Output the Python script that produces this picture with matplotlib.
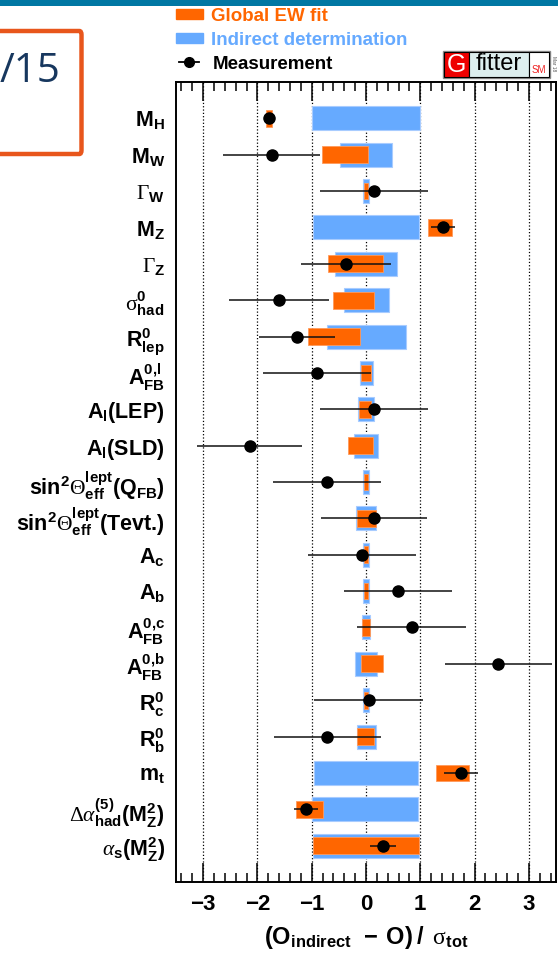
import matplotlib
matplotlib.use("Agg")
import matplotlib.pyplot as plt
from matplotlib.patches import Rectangle, FancyBboxPatch
from matplotlib.lines import Line2D
from matplotlib.ticker import MultipleLocator

# ---------------- data ----------------
labels = [
    r"$\mathbf{M_H}$",
    r"$\mathbf{M_W}$",
    r"$\Gamma_{\mathbf{W}}$",
    r"$\mathbf{M_Z}$",
    r"$\Gamma_{\mathbf{Z}}$",
    r"$\mathrm{\sigma}^{\mathbf{0}}_{\mathbf{had}}$",
    r"$\mathbf{R^0_{lep}}$",
    r"$\mathbf{A^{0{,}l}_{FB}}$",
    r"$\mathbf{A_l(LEP)}$",
    r"$\mathbf{A_l(SLD)}$",
    r"$\mathbf{sin^2}\Theta^{\mathbf{lept}}_{\mathbf{eff}}\mathbf{(Q_{FB})}$",
    r"$\mathbf{sin^2}\Theta^{\mathbf{lept}}_{\mathbf{eff}}$(Tevt.)",
    r"$\mathbf{A_c}$",
    r"$\mathbf{A_b}$",
    r"$\mathbf{A^{0{,}c}_{FB}}$",
    r"$\mathbf{A^{0{,}b}_{FB}}$",
    r"$\mathbf{R^0_c}$",
    r"$\mathbf{R^0_b}$",
    r"$\mathbf{m_t}$",
    r"$\Delta\alpha^{\mathbf{(5)}}_{\mathbf{had}}\mathbf{(M^2_Z)}$",
    r"$\alpha_{\mathbf{s}}\mathbf{(M^2_Z)}$",
]

# Indirect determination (blue) band: low / high edges
indirect_lo = [-1.00, -0.47, -0.055, -0.98, -0.58, -0.41, -0.72, -0.11, -0.14, -0.22, -0.055,
               -0.18, -0.055, -0.055, -0.08, -0.20, -0.055, -0.17, -0.96, -0.99, -0.98]
indirect_hi = [1.00, 0.48, 0.055, 0.98, 0.57, 0.42, 0.73, 0.12, 0.15, 0.23, 0.055,
               0.18, 0.055, 0.055, 0.08, 0.21, 0.055, 0.18, 0.95, 0.96, 0.98]

# Global EW fit (orange) band: low / high edges
fit_lo = [-1.84, -0.81, -0.045, 1.15, -0.70, -0.61, -1.07, -0.10, -0.13, -0.34, -0.045,
          -0.17, -0.045, -0.045, -0.07, -0.10, -0.045, -0.17, 1.29, -1.29, -0.98]
fit_hi = [-1.73, 0.03, 0.045, 1.58, 0.31, 0.14, -0.11, 0.10, 0.09, 0.12, 0.045,
          0.18, 0.045, 0.045, 0.07, 0.31, 0.045, 0.15, 1.89, -0.80, 0.98]

# Measurement pull and its error
meas = [-1.79, -1.74, 0.15, 1.42, -0.37, -1.61, -1.28, -0.90, 0.15, -2.14, -0.72,
        0.15, -0.07, 0.59, 0.84, 2.44, 0.05, -0.71, 1.75, -1.10, 0.32]
meas_err = [0.02, 0.89, 1.00, 0.22, 0.83, 0.92, 0.70, 0.99, 1.00, 0.97, 1.00,
            0.98, 1.00, 1.00, 1.00, 0.98, 1.00, 0.98, 0.31, 0.22, 0.24]

x_ticks = [-3, -2, -1, 0, 1, 2, 3]
x_tick_labels = ["\u22123", "\u22122", "\u22121", "0", "1", "2", "3"]

legend_labels = ["Global EW fit", "Indirect determination", "Measurement"]

# ---------------- style ----------------
plt.rcParams["font.family"] = ["Liberation Sans", "DejaVu Sans"]
plt.rcParams["mathtext.fontset"] = "custom"
plt.rcParams["mathtext.rm"] = "Liberation Serif"
plt.rcParams["mathtext.it"] = "Liberation Serif:italic"
plt.rcParams["mathtext.bf"] = "Liberation Sans:bold"
plt.rcParams["mathtext.sf"] = "Liberation Sans"

ORANGE = "#FF6600"
BLUE = "#66AAFF"

W, H = 558, 959
fig = plt.figure(figsize=(W / 100, H / 100), dpi=100)


def fx(x):
    return x / W


def fy(y):
    return 1 - y / H


def prect(x0, y0, x1, y1, **kw):
    r = Rectangle((fx(x0), fy(y1)), (x1 - x0) / W, (y1 - y0) / H,
                  transform=fig.transFigure, **kw)
    fig.patches.append(r)
    return r


ax = fig.add_axes([176 / W, (H - 882) / H, 380 / W, 800 / H])

n = len(labels)
ys = list(range(n))

# bars
ax.barh(ys, [h - l for l, h in zip(indirect_lo, indirect_hi)], left=indirect_lo,
        height=0.66, color=BLUE, edgecolor="#A8CCFF", linewidth=0.8, zorder=2)
ax.barh(ys, [h - l for l, h in zip(fit_lo, fit_hi)], left=fit_lo,
        height=0.46, color=ORANGE, edgecolor="#FF9A5A", linewidth=0.6, zorder=3)
ax.errorbar(meas, ys, xerr=meas_err, fmt="o", color="black", ecolor="#111111",
            ms=8, elinewidth=1.1, capsize=0, zorder=4)

ax.set_xlim(-3.5, 3.5)
ax.set_ylim(n, -1)

# grid
for xv in x_ticks:
    ax.axvline(xv, color="black", linestyle=":", linewidth=0.9, zorder=1)

ax.set_xticks(x_ticks)
ax.set_xticklabels(x_tick_labels, fontsize=16, fontweight="bold")
ax.xaxis.set_minor_locator(MultipleLocator(0.2))
ax.tick_params(axis="x", which="both", direction="in", top=True, bottom=True,
               width=1.1, pad=9)
ax.tick_params(axis="x", which="major", length=14)
ax.tick_params(axis="x", which="minor", length=6.5)

ax.set_yticks(ys)
ax.set_yticklabels(labels, fontsize=15.5, fontweight="bold")
ax.tick_params(axis="y", which="both", length=0, pad=8)

for sp in ax.spines.values():
    sp.set_linewidth(1.4)

ax.set_xlabel(r"$\mathbf{(O_{indirect}\;\;-\;O)\;/\;\;}\mathrm{\sigma}_{\mathbf{tot}}$",
              fontsize=17, labelpad=6)

# ---------------- legend (outside axes, top) ----------------
prect(176, 9, 203, 19, color=ORANGE)
fig.text(fx(211), fy(21), legend_labels[0], color=ORANGE, fontsize=13.5,
         fontweight="bold", va="baseline", ha="left")
prect(176, 33, 203, 43, color=BLUE)
fig.text(fx(211), fy(45), legend_labels[1], color=BLUE, fontsize=13.5,
         fontweight="bold", va="baseline", ha="left")
fig.lines.append(Line2D([fx(179), fx(199)], [fy(62), fy(62)], color="black",
                        lw=1.3, transform=fig.transFigure))
fig.lines.append(Line2D([fx(189)], [fy(62)], color="black", marker="o", ms=7,
                        transform=fig.transFigure))
fig.text(fx(213), fy(69), legend_labels[2], color="black", fontsize=13.5,
         fontweight="bold", va="baseline", ha="left")

# ---------------- Gfitter logo ----------------
prect(443, 51, 550, 78, facecolor="none", edgecolor="#888888", lw=1.0)
prect(444, 52, 469, 77, facecolor="#EE0000", edgecolor="black", lw=0.8)
prect(469, 52, 529, 77, facecolor="#DDEEEE", edgecolor="black", lw=0.8)
prect(529, 52, 549, 77, facecolor="white", edgecolor="black", lw=0.8)
fig.text(fx(456.5), fy(65), "G", color="white", fontsize=18, ha="center", va="center")
fig.text(fx(499), fy(64.5), "fitter", color="black", fontsize=17, ha="center", va="center")
fig.text(fx(539), fy(70), "SM", color="#EE2222", fontsize=7, ha="center", va="center")
fig.text(fx(554), fy(64), "Mar 18", color="#555555", fontsize=3.5, rotation=-90,
         ha="center", va="center")

# ---------------- page decorations ----------------
prect(0, 0, 558, 5.5, color="#0077A3", lw=0)
box = FancyBboxPatch((fx(-10), fy(154)), (81.5 + 10) / W, (154 - 31) / H,
                     boxstyle="round,pad=0,rounding_size=0.004",
                     transform=fig.transFigure, facecolor="white",
                     edgecolor="#E8561C", lw=3.2)
fig.patches.append(box)
fig.text(fx(60), fy(82), "/15", color="#17375E", fontsize=29, family="Open Sans",
         ha="right", va="baseline")

fig.savefig("out.png", dpi=100)
